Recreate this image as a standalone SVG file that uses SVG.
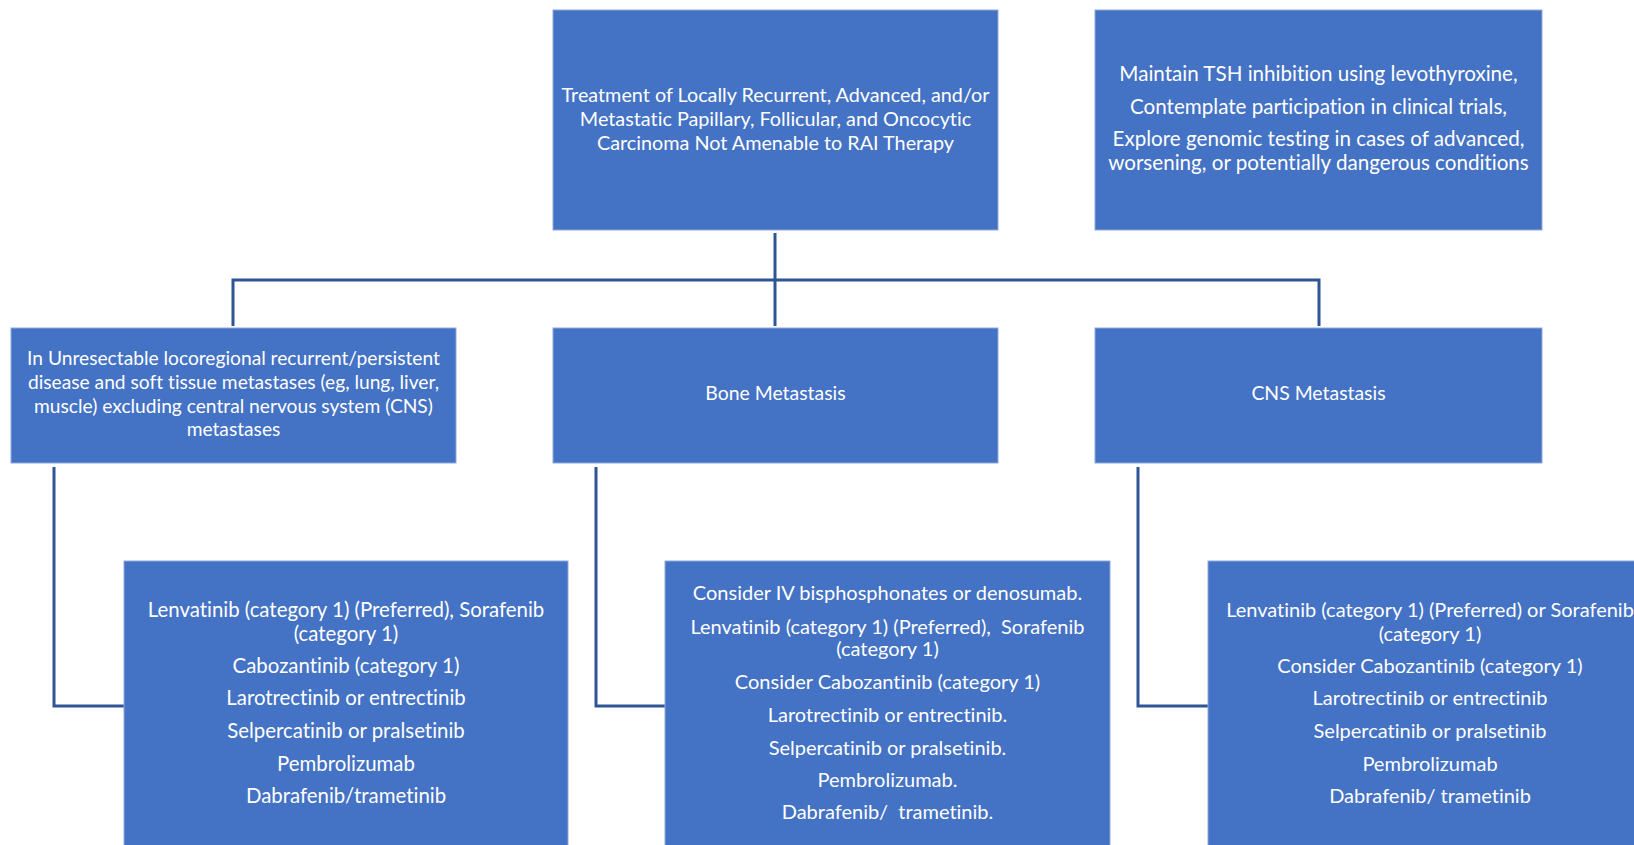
<svg xmlns="http://www.w3.org/2000/svg" width="1634" height="845" viewBox="0 0 1634 845">
<style>
.box{fill:#4472C4;stroke:#8EA9DB;stroke-width:1}
.t{font-family:Lato,"Liberation Sans",sans-serif;font-size:20px;fill:#FFFFFF;text-anchor:middle;white-space:pre;font-variant-ligatures:none}
.c{fill:none;stroke:#2F5597;stroke-width:3}
</style>
<rect width="1634" height="845" fill="#FFFFFF"/>
<g id="connectors">
<path class="c" d="M775,233 V326"/>
<path class="c" d="M233,326 V280 H1319 V326"/>
<path class="c" d="M54,467 V706 H124"/>
<path class="c" d="M596,467 V706 H665"/>
<path class="c" d="M1138,467 V706 H1208"/>
</g>
<g id="root">
<rect class="box" x="553" y="10" width="445" height="220"/>
<text class="t" style="font-size:19.8px"><tspan x="775.5" y="102">Treatment of Locally Recurrent, Advanced, and/or</tspan><tspan x="775.5" y="126">Metastatic Papillary, Follicular, and Oncocytic</tspan><tspan x="775.5" y="150">Carcinoma Not Amenable to RAI Therapy</tspan></text>
</g>
<g id="general">
<rect class="box" x="1095" y="10" width="447" height="220"/>
<text class="t" style="font-size:20.6px"><tspan x="1318.5" y="81">Maintain TSH inhibition using levothyroxine,</tspan><tspan x="1318.5" y="114">Contemplate participation in clinical trials,</tspan><tspan x="1318.5" y="146">Explore genomic testing in cases of advanced,</tspan><tspan x="1318.5" y="170">worsening, or potentially dangerous conditions</tspan></text>
</g>
<g id="soft-tissue">
<rect class="box" x="11" y="328" width="445" height="135"/>
<text class="t" style="font-size:19.2px"><tspan x="233.5" y="365">In Unresectable locoregional recurrent/persistent</tspan><tspan x="233.5" y="389">disease and soft tissue metastases (eg, lung, liver,</tspan><tspan x="233.5" y="413">muscle) excluding central nervous system (CNS)</tspan><tspan x="233.5" y="436">metastases</tspan></text>
</g>
<g id="bone">
<rect class="box" x="553" y="328" width="445" height="135"/>
<text class="t" style="font-size:19.4px" x="775.5" y="400">Bone Metastasis</text>
</g>
<g id="cns">
<rect class="box" x="1095" y="328" width="447" height="135"/>
<text class="t" style="font-size:19.4px" x="1318.5" y="400">CNS Metastasis</text>
</g>
<g id="soft-tissue-tx">
<rect class="box" x="124" y="561" width="444" height="300"/>
<text class="t" style="font-size:20.4px"><tspan x="346" y="617">Lenvatinib (category 1) (Preferred), Sorafenib</tspan><tspan x="346" y="641">(category 1)</tspan><tspan x="346" y="673">Cabozantinib (category 1)</tspan><tspan x="346" y="705">Larotrectinib or entrectinib</tspan><tspan x="346" y="738">Selpercatinib or pralsetinib</tspan><tspan x="346" y="771">Pembrolizumab</tspan><tspan x="346" y="803">Dabrafenib/trametinib</tspan></text>
</g>
<g id="bone-tx">
<rect class="box" x="665" y="561" width="445" height="300"/>
<text class="t"><tspan x="887.5" y="600">Consider IV bisphosphonates or denosumab.</tspan><tspan x="887.5" y="634">Lenvatinib (category 1) (Preferred),  Sorafenib</tspan><tspan x="887.5" y="656">(category 1)</tspan><tspan x="887.5" y="689">Consider Cabozantinib (category 1)</tspan><tspan x="887.5" y="722">Larotrectinib or entrectinib.</tspan><tspan x="887.5" y="755">Selpercatinib or pralsetinib.</tspan><tspan x="887.5" y="787">Pembrolizumab.</tspan><tspan x="887.5" y="819">Dabrafenib/  trametinib.</tspan></text>
</g>
<g id="cns-tx">
<rect class="box" x="1208" y="561" width="445" height="300"/>
<text class="t"><tspan x="1430" y="617">Lenvatinib (category 1) (Preferred) or Sorafenib</tspan><tspan x="1430" y="641">(category 1)</tspan><tspan x="1430" y="673">Consider Cabozantinib (category 1)</tspan><tspan x="1430" y="705">Larotrectinib or entrectinib</tspan><tspan x="1430" y="738">Selpercatinib or pralsetinib</tspan><tspan x="1430" y="771">Pembrolizumab</tspan><tspan x="1430" y="803">Dabrafenib/ trametinib</tspan></text>
</g>
</svg>
